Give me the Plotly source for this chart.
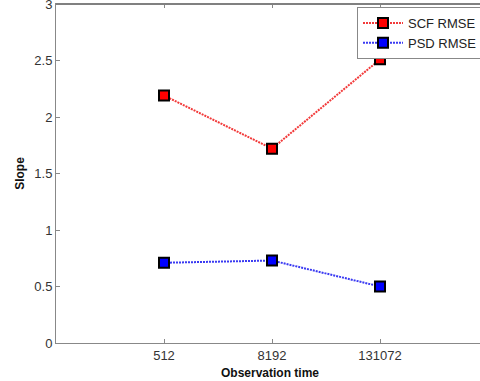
import plotly.graph_objects as go

categories = ["512", "8192", "131072"]
positions = [1, 2, 3]
scf_rmse = [2.19, 1.72, 2.51]
psd_rmse = [0.71, 0.73, 0.50]

fig = go.Figure()
fig.add_trace(go.Scatter(
    x=positions, y=scf_rmse, name="SCF RMSE", mode="lines+markers",
    line=dict(color="#f23a3a", width=2, dash="2px,1px"),
    marker=dict(symbol="square", size=10, color="#ff0000", line=dict(color="black", width=2)),
))
fig.add_trace(go.Scatter(
    x=positions, y=psd_rmse, name="PSD RMSE", mode="lines+markers",
    line=dict(color="#3a3af2", width=2, dash="2px,1px"),
    marker=dict(symbol="square", size=10, color="#0000ff", line=dict(color="black", width=2)),
))

fig.add_shape(type="line", xref="paper", yref="paper", x0=0, x1=1, y0=1, y1=1,
              line=dict(color="#808080", width=2), layer="above")

fig.update_layout(
    width=484, height=381, autosize=False,
    margin=dict(l=56, r=0, t=4, b=38, autoexpand=False),
    paper_bgcolor="white", plot_bgcolor="white",
    font=dict(family="Liberation Sans, Arial, sans-serif", size=12, color="#333333"),
    showlegend=True,
    legend=dict(x=301/428, y=1 - 3/339, xanchor="left", yanchor="top",
                bgcolor="white", bordercolor="#888888", borderwidth=1,
                font=dict(size=13, color="#222222"), tracegroupgap=0,
                itemwidth=40),
    xaxis=dict(range=[0, 428/108], tickmode="array", tickvals=positions, ticktext=categories,
               showgrid=False, zeroline=False, showline=True, linecolor="#888888", linewidth=1,
               mirror="ticks", ticks="inside", ticklen=4, tickcolor="#888888",
               automargin=False, ticklabelstandoff=0, tickfont=dict(size=13),
               title=dict(text="<b>Observation time</b>", standoff=7, font=dict(size=12, color="#111111"))),
    yaxis=dict(range=[0, 3], tickvals=[0, 0.5, 1, 1.5, 2, 2.5, 3],
               ticktext=["0", "0.5", "1", "1.5", "2", "2.5", "3"],
               showgrid=False, zeroline=False, showline=True, linecolor="#888888", linewidth=1,
               ticks="inside", ticklen=4, tickcolor="#888888", tickfont=dict(size=13),
               automargin=False, ticklabeloverflow="allow",
               title=dict(text="<b>Slope</b>", standoff=7, font=dict(size=12, color="#111111"))),
)

fig.write_html("out.html", config={"displayModeBar": False},
               post_script="document.body.style.margin='0';document.body.style.overflow='hidden';"
                           "document.documentElement.style.overflow='hidden';")
